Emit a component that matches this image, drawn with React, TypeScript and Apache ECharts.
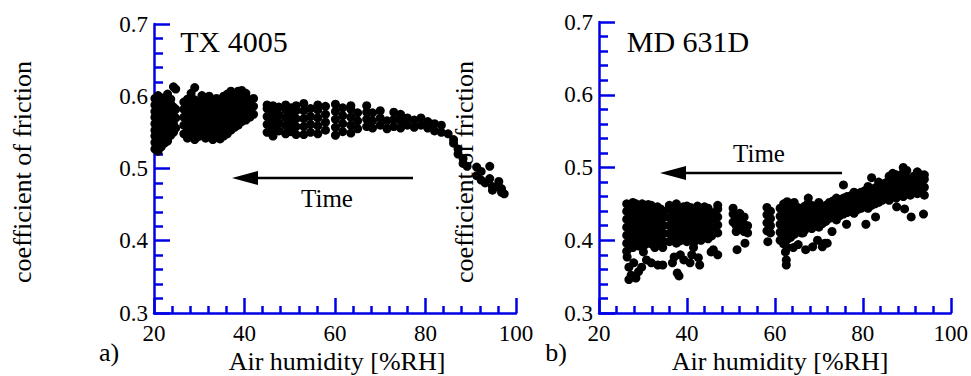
import React, { useEffect, useRef } from "react";
import * as echarts from "echarts";

// ---------- data ----------
const xTicks = [20, 40, 60, 80, 100];
const yTicks = [0.3, 0.4, 0.5, 0.6, 0.7];
const panelTitles = ["TX 4005", "MD 631D"];
const panelLetters = ["a)", "b)"];
const xAxisTitle = "Air humidity [%RH]";
const yAxisTitle = "coefficient of friction";
const arrowLabel = "Time";

// TX 4005 : columns [humidity, [cof values]]
const txColumns: [number, number[]][] = [
  [20.2, [0.527, 0.536, 0.545, 0.553, 0.562, 0.571, 0.579, 0.588, 0.597]],
  [20.9, [0.524, 0.533, 0.541, 0.55, 0.559, 0.567, 0.576, 0.585, 0.594, 0.601]],
  [21.6, [0.53, 0.538, 0.547, 0.556, 0.565, 0.573, 0.582, 0.59, 0.598]],
  [22.3, [0.535, 0.544, 0.552, 0.561, 0.57, 0.578, 0.587, 0.595]],
  [23.0, [0.538, 0.547, 0.556, 0.565, 0.573, 0.582, 0.59, 0.603]],
  [23.7, [0.546, 0.555, 0.564, 0.572, 0.581, 0.589, 0.596]],
  [24.3, [0.55, 0.562, 0.574, 0.585, 0.613]],
  [24.8, [0.556, 0.57, 0.582, 0.61]],
  [26.6, [0.548, 0.56, 0.571, 0.582, 0.592]],
  [27.4, [0.542, 0.553, 0.564, 0.575, 0.586, 0.596]],
  [28.2, [0.545, 0.556, 0.567, 0.578, 0.589, 0.604]],
  [29.0, [0.54, 0.551, 0.562, 0.573, 0.584, 0.595, 0.612]],
  [29.8, [0.544, 0.555, 0.566, 0.577, 0.588]],
  [30.6, [0.548, 0.559, 0.57, 0.581, 0.592, 0.601]],
  [31.4, [0.542, 0.553, 0.564, 0.575, 0.586, 0.596]],
  [32.2, [0.546, 0.557, 0.568, 0.579, 0.59, 0.6]],
  [33.0, [0.54, 0.551, 0.562, 0.573, 0.584, 0.594]],
  [33.8, [0.543, 0.554, 0.565, 0.576, 0.587, 0.597]],
  [34.6, [0.541, 0.552, 0.563, 0.574, 0.585, 0.596]],
  [35.4, [0.545, 0.556, 0.567, 0.578, 0.589, 0.6]],
  [36.2, [0.548, 0.558, 0.569, 0.58, 0.591, 0.603]],
  [37.0, [0.553, 0.563, 0.574, 0.585, 0.596, 0.607]],
  [37.8, [0.557, 0.568, 0.579, 0.59, 0.601]],
  [38.6, [0.56, 0.571, 0.582, 0.593, 0.607]],
  [39.4, [0.565, 0.576, 0.587, 0.598, 0.608]],
  [40.3, [0.567, 0.578, 0.589, 0.6, 0.604]],
  [41.2, [0.571, 0.582, 0.593]],
  [42.0, [0.575, 0.586, 0.597]],
  [45.0, [0.55, 0.561, 0.572, 0.583, 0.588]],
  [46.3, [0.545, 0.556, 0.567, 0.578, 0.587]],
  [47.6, [0.552, 0.563, 0.574, 0.585]],
  [49.1, [0.548, 0.559, 0.57, 0.581, 0.588]],
  [50.3, [0.551, 0.562, 0.573, 0.584]],
  [51.4, [0.547, 0.558, 0.569, 0.58, 0.587]],
  [53.1, [0.547, 0.558, 0.569, 0.58, 0.59]],
  [54.6, [0.55, 0.561, 0.572, 0.583]],
  [56.2, [0.548, 0.559, 0.57, 0.581, 0.588]],
  [57.9, [0.553, 0.564, 0.575, 0.586]],
  [60.1, [0.546, 0.557, 0.568, 0.579, 0.589]],
  [61.7, [0.551, 0.562, 0.573, 0.584]],
  [63.5, [0.549, 0.56, 0.571, 0.582, 0.587]],
  [65.0, [0.555, 0.566, 0.577]],
  [67.0, [0.558, 0.568, 0.578, 0.587]],
  [68.3, [0.556, 0.566, 0.577]],
  [70.0, [0.56, 0.57, 0.58]],
  [71.5, [0.555, 0.566]],
  [73.0, [0.558, 0.568, 0.578]],
  [74.5, [0.556, 0.566, 0.575]],
  [76.0, [0.56, 0.57]],
  [77.5, [0.557, 0.567]],
  [79.0, [0.56, 0.57]],
  [80.5, [0.556, 0.565]],
  [82.0, [0.552, 0.562]],
  [83.5, [0.55, 0.56]],
  [85.0, [0.548]],
  [86.2, [0.54, 0.535]],
  [87.2, [0.527, 0.52]],
  [88.3, [0.514, 0.507]],
  [89.2, [0.503]],
  [91.3, [0.502, 0.49]],
  [92.3, [0.496, 0.484]],
  [93.2, [0.48]],
  [94.2, [0.503, 0.486]],
  [94.8, [0.475, 0.47]],
  [96.2, [0.482, 0.475]],
  [96.8, [0.472, 0.467]],
  [97.4, [0.465]],
];

// MD 631D : columns [humidity, [cof values]]
const mdColumns: [number, number[]][] = [
  [26.3, [0.385, 0.396, 0.407, 0.418, 0.429, 0.44, 0.45]],
  [27.0, [0.392, 0.403, 0.414, 0.425, 0.436, 0.447]],
  [27.7, [0.39, 0.4, 0.411, 0.422, 0.433, 0.444, 0.452]],
  [28.4, [0.395, 0.406, 0.417, 0.428, 0.439, 0.45]],
  [29.1, [0.392, 0.403, 0.414, 0.425, 0.436, 0.447]],
  [29.8, [0.396, 0.407, 0.418, 0.429, 0.44, 0.45]],
  [30.5, [0.394, 0.405, 0.416, 0.427, 0.438, 0.448]],
  [31.2, [0.398, 0.409, 0.42, 0.431, 0.442, 0.449]],
  [31.9, [0.395, 0.406, 0.417, 0.428, 0.439, 0.448]],
  [32.6, [0.4, 0.411, 0.422, 0.433, 0.444]],
  [33.3, [0.397, 0.408, 0.419, 0.43, 0.441, 0.446]],
  [34.0, [0.4, 0.411, 0.422, 0.433, 0.443]],
  [34.7, [0.398, 0.409, 0.42, 0.431, 0.44]],
  [36.0, [0.398, 0.409, 0.42, 0.431, 0.442, 0.448]],
  [36.8, [0.4, 0.411, 0.422, 0.433, 0.444]],
  [37.6, [0.396, 0.407, 0.418, 0.429, 0.44, 0.45]],
  [38.4, [0.399, 0.41, 0.421, 0.432, 0.443]],
  [39.2, [0.402, 0.413, 0.424, 0.435, 0.446]],
  [40.0, [0.398, 0.409, 0.42, 0.431, 0.442, 0.447]],
  [40.8, [0.401, 0.412, 0.423, 0.434, 0.445]],
  [41.6, [0.397, 0.408, 0.419, 0.43, 0.441]],
  [42.4, [0.403, 0.414, 0.425, 0.436, 0.447]],
  [43.2, [0.4, 0.411, 0.422, 0.433, 0.444]],
  [44.0, [0.404, 0.415, 0.426, 0.437, 0.446]],
  [44.8, [0.402, 0.413, 0.424, 0.435, 0.444]],
  [45.6, [0.406, 0.417, 0.428, 0.438]],
  [47.0, [0.41, 0.421, 0.432, 0.443, 0.448]],
  [50.5, [0.425, 0.436, 0.444]],
  [51.2, [0.412, 0.42, 0.43]],
  [52.0, [0.415, 0.426, 0.437]],
  [53.0, [0.412, 0.422, 0.432]],
  [53.8, [0.41, 0.42]],
  [58.2, [0.413, 0.424, 0.435, 0.445]],
  [59.0, [0.41, 0.42, 0.43, 0.44]],
  [61.2, [0.4, 0.411, 0.422, 0.433, 0.444]],
  [62.0, [0.395, 0.406, 0.417, 0.428, 0.439, 0.45]],
  [62.8, [0.401, 0.412, 0.423, 0.434, 0.445, 0.453]],
  [63.6, [0.404, 0.415, 0.426, 0.437, 0.448]],
  [64.4, [0.408, 0.419, 0.43, 0.441, 0.452]],
  [65.2, [0.412, 0.423, 0.434, 0.445]],
  [66.0, [0.41, 0.421, 0.432, 0.443]],
  [66.8, [0.414, 0.425, 0.436, 0.447]],
  [67.6, [0.418, 0.429, 0.44, 0.451, 0.458]],
  [68.4, [0.416, 0.427, 0.438, 0.448]],
  [69.2, [0.42, 0.431, 0.442]],
  [70.0, [0.418, 0.429, 0.44, 0.452]],
  [70.8, [0.423, 0.434, 0.445]],
  [71.6, [0.426, 0.437, 0.448]],
  [72.4, [0.43, 0.441, 0.452]],
  [73.2, [0.432, 0.443, 0.454]],
  [74.0, [0.428, 0.438, 0.449, 0.458]],
  [74.8, [0.434, 0.445, 0.455]],
  [75.6, [0.436, 0.447, 0.458, 0.476]],
  [76.4, [0.438, 0.449, 0.46]],
  [77.2, [0.44, 0.451, 0.461]],
  [78.0, [0.437, 0.448, 0.459, 0.466]],
  [78.8, [0.442, 0.453, 0.464]],
  [79.6, [0.444, 0.455, 0.466]],
  [80.4, [0.446, 0.457, 0.468]],
  [81.2, [0.444, 0.455, 0.466, 0.474]],
  [82.0, [0.448, 0.459, 0.47, 0.486]],
  [82.8, [0.45, 0.461, 0.472]],
  [83.6, [0.452, 0.463, 0.474, 0.48]],
  [84.4, [0.455, 0.466, 0.477]],
  [85.2, [0.457, 0.468, 0.479]],
  [86.0, [0.455, 0.466, 0.477, 0.488]],
  [86.8, [0.46, 0.471, 0.482, 0.492]],
  [87.6, [0.458, 0.469, 0.48, 0.49]],
  [88.4, [0.462, 0.473, 0.484]],
  [89.2, [0.46, 0.471, 0.482, 0.493, 0.5]],
  [90.0, [0.464, 0.475, 0.486, 0.496]],
  [90.8, [0.462, 0.473, 0.484]],
  [91.6, [0.466, 0.477, 0.488]],
  [92.4, [0.464, 0.475, 0.486, 0.494]],
  [93.2, [0.468, 0.479, 0.49]],
  [94.0, [0.462, 0.473, 0.484, 0.49]],
];

// MD 631D : isolated points [humidity, cof]
const mdSingles: [number, number][] = [
  [26.4, 0.377], [26.8, 0.363], [27.9, 0.369], [27.3, 0.352], [26.8, 0.346],
  [28.4, 0.348], [29.0, 0.357], [29.7, 0.363], [30.8, 0.373], [30.1, 0.384],
  [32.7, 0.39], [34.5, 0.39], [31.9, 0.369], [33.4, 0.366], [34.5, 0.366],
  [36.7, 0.369], [37.1, 0.377], [37.8, 0.355], [38.2, 0.351], [38.5, 0.38],
  [39.3, 0.373], [40.7, 0.369], [41.1, 0.38], [41.5, 0.39], [42.9, 0.366],
  [42.6, 0.376], [45.5, 0.384], [47.0, 0.38], [46.0, 0.387],
  [51.4, 0.387], [53.2, 0.396], [58.4, 0.398],
  [62.6, 0.373], [62.6, 0.366], [62.4, 0.384], [62.9, 0.39], [64.2, 0.39],
  [65.3, 0.394], [67.0, 0.387], [68.6, 0.391], [69.7, 0.4], [70.8, 0.391],
  [71.4, 0.396], [66.4, 0.41], [71.9, 0.396],
  [73.0, 0.412], [76.3, 0.422], [80.7, 0.422], [82.9, 0.432], [87.7, 0.446],
  [89.5, 0.443], [91.0, 0.432], [93.8, 0.436],
];

const toPoints = (cols: [number, number[]][], singles: [number, number][] = []) => {
  const pts: [number, number][] = [];
  cols.forEach(([x, ys]) => ys.forEach((y) => pts.push([x, y])));
  singles.forEach((p) => pts.push(p));
  return pts;
};

// ---------- styling ----------
const BLUE = "#0000e6";
const SERIF = "Liberation Serif";
const grids = [
  { left: 154, top: 24, width: 362, height: 289 },
  { left: 599, top: 22, width: 364, height: 291 },
];

const makeX = (i: number) => ({
  type: "value",
  gridIndex: i,
  min: xTicks[0],
  max: xTicks[xTicks.length - 1],
  interval: xTicks[1] - xTicks[0],
  axisLine: { show: true, lineStyle: { color: BLUE, width: 2.5 } },
  axisTick: { show: true, inside: true, length: 15, lineStyle: { color: BLUE, width: 2.5 } },
  minorTick: { show: true, splitNumber: 5, length: 7, lineStyle: { color: BLUE, width: 2.5 } },
  splitLine: { show: false },
  axisLabel: { color: "#000", fontSize: 23, fontFamily: SERIF, margin: 9 },
});

const makeY = (i: number) => ({
  type: "value",
  gridIndex: i,
  min: yTicks[0],
  max: yTicks[yTicks.length - 1],
  interval: 0.1,
  axisLine: { show: true, lineStyle: { color: BLUE, width: 2.5 } },
  axisTick: { show: true, inside: true, length: 16, lineStyle: { color: BLUE, width: 2.5 } },
  minorTick: { show: true, splitNumber: 5, length: 9, lineStyle: { color: BLUE, width: 2.5 } },
  splitLine: { show: false },
  axisLabel: {
    color: "#000",
    fontSize: 23,
    fontFamily: SERIF,
    margin: 6,
    formatter: (v: number) => v.toFixed(1),
  },
});

const txt = (text: string, x: number, y: number, size: number, rotation = 0) => ({
  type: "text",
  x,
  y,
  rotation,
  style: {
    text,
    fill: "#000",
    fontSize: size,
    fontFamily: SERIF,
    align: "center",
    verticalAlign: "middle",
  },
});

const arrow = (x1: number, x2: number, y: number) => ({
  type: "group",
  children: [
    { type: "line", shape: { x1, y1: y, x2: x2 + 20, y2: y }, style: { stroke: "#000", lineWidth: 2.5 } },
    {
      type: "polygon",
      shape: { points: [[x2, y], [x2 + 26, y - 7], [x2 + 26, y + 7]] },
      style: { fill: "#000" },
    },
  ],
});

export default function App() {
  const ref = useRef<HTMLDivElement>(null);
  useEffect(() => {
    if (!ref.current) return;
    const chart = echarts.init(ref.current, undefined, { renderer: "svg" });
    chart.setOption({
      animation: false,
      backgroundColor: "#fff",
      textStyle: { fontFamily: SERIF },
      grid: grids,
      xAxis: [makeX(0), makeX(1)],
      yAxis: [makeY(0), makeY(1)],
      series: [
        {
          type: "scatter",
          xAxisIndex: 0,
          yAxisIndex: 0,
          symbol: "circle",
          symbolSize: 9,
          itemStyle: { color: "#000", opacity: 1 },
          data: toPoints(txColumns),
        },
        {
          type: "scatter",
          xAxisIndex: 1,
          yAxisIndex: 1,
          symbol: "circle",
          symbolSize: 9,
          itemStyle: { color: "#000", opacity: 1 },
          data: toPoints(mdColumns, mdSingles),
        },
      ],
      graphic: [
        txt(yAxisTitle, 22, 172, 26, Math.PI / 2),
        txt(yAxisTitle, 464, 172, 26, Math.PI / 2),
        txt(xAxisTitle, 337, 361, 26),
        txt(xAxisTitle, 780, 361, 26),
        txt(panelLetters[0], 109, 352, 26),
        txt(panelLetters[1], 556, 352, 26),
        txt(panelTitles[0], 234, 41, 30),
        txt(panelTitles[1], 688, 41, 30),
        txt(arrowLabel, 327, 198, 25),
        txt(arrowLabel, 759, 153, 25),
        arrow(413, 232, 178),
        arrow(842, 660, 173),
      ],
    });
    return () => chart.dispose();
  }, []);
  return (
    <div
      ref={ref}
      style={{ position: "fixed", left: 0, top: 0, width: 971, height: 376, background: "#fff" }}
    />
  );
}
